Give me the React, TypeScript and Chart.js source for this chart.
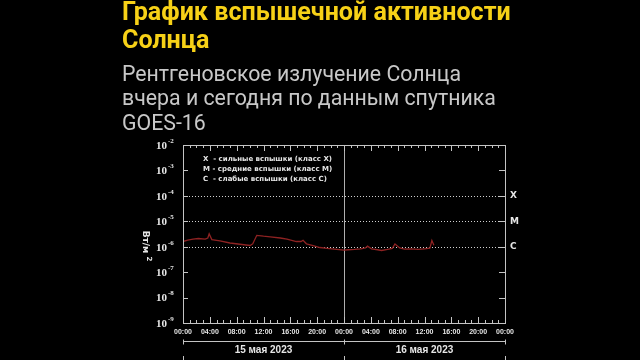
import React, { useEffect, useRef } from "react";
import { Chart, registerables } from "chart.js";
Chart.register(...registerables);

// ---- data ----
const hours = [0, 0.7, 1.5, 2.3, 3.3, 3.7, 3.9, 4.3, 5.5, 7.0, 8.5, 10.0, 10.4, 11.0, 12.0, 13.0, 14.5, 15.5, 16.9, 17.6, 17.9, 18.4, 19.4, 20.4, 21.5, 22.9, 24.0, 24.6, 25.6, 26.5, 27.2, 27.5, 28.1, 29.0, 29.6, 30.5, 31.2, 31.6, 32.3, 33.0, 34.0, 35.0, 36.0, 36.8, 37.1, 37.4];
const flux = [1.6e-6, 1.8e-6, 2.0e-6, 2.1e-6, 2.0e-6, 2.2e-6, 3.2e-6, 1.9e-6, 1.7e-6, 1.4e-6, 1.25e-6, 1.12e-6, 1.3e-6, 2.8e-6, 2.6e-6, 2.45e-6, 2.2e-6, 2.0e-6, 1.6e-6, 1.6e-6, 1.8e-6, 1.3e-6, 1.1e-6, 9.3e-7, 8.6e-7, 7.9e-7, 7.3e-7, 7.6e-7, 7.8e-7, 8.2e-7, 9.0e-7, 1.05e-6, 8.2e-7, 7.6e-7, 7.1e-7, 7.8e-7, 8.6e-7, 1.29e-6, 9.0e-7, 8.0e-7, 8.2e-7, 7.8e-7, 8.3e-7, 8.7e-7, 1.76e-6, 1.15e-6];
const decadeExps = [-9, -8, -7, -6, -5, -4, -3, -2];
const classLevels = [1e-4, 1e-5, 1e-6];
const classLetters = ["X", "M", "C"];
const legendLines = [
  "X  - сильные вспышки (класс X)",
  "M - средние вспышки (класс M)",
  "C  - слабые вспышки (класс C)",
];
const dayLabels = ["15 мая 2023", "16 мая 2023"];
const dayBounds = [0, 24, 48];
const titleLines = ["График вспышечной активности", "Солнца"];
const subtitleLines = ["Рентгеновское излучение Солнца", "вчера и сегодня по данным спутника", "GOES-16"];
const yUnit = "Вт/м";
const yUnitSup = "2";

const FRAME = "#c4c4c4";
const TEXT = "#e6e6e6";

const decor = {
  id: "decor",
  beforeDatasetsDraw(chart: any) {
    const { ctx, chartArea: a, scales } = chart;
    const y = scales.y, x = scales.x;
    ctx.save();
    ctx.strokeStyle = "#d0d0d0";
    ctx.lineWidth = 1;
    ctx.setLineDash([1, 2]);
    classLevels.forEach((v) => {
      const py = Math.round(y.getPixelForValue(v)) + 0.5;
      ctx.beginPath();
      ctx.moveTo(a.left, py);
      ctx.lineTo(a.right, py);
      ctx.stroke();
    });
    ctx.setLineDash([]);
    ctx.strokeStyle = "#b0b0b0";
    const mx = Math.round(x.getPixelForValue(24)) + 0.5;
    ctx.beginPath();
    ctx.moveTo(mx, a.top);
    ctx.lineTo(mx, a.bottom);
    ctx.stroke();
    ctx.restore();
  },
  afterDraw(chart: any) {
    const { ctx, chartArea: a, scales } = chart;
    const y = scales.y, x = scales.x;
    ctx.save();
    ctx.strokeStyle = FRAME;
    ctx.lineWidth = 1;
    ctx.strokeRect(a.left + 0.5, a.top + 0.5, a.right - a.left, a.bottom - a.top);
    // time ticks top & bottom
    ctx.beginPath();
    for (let h = 0; h <= 48; h++) {
      const px = Math.round(x.getPixelForValue(h)) + 0.5;
      const len = h % 4 === 0 ? 6 : 3;
      ctx.moveTo(px, a.bottom);
      ctx.lineTo(px, a.bottom - len);
      ctx.moveTo(px, a.top);
      ctx.lineTo(px, a.top + len);
    }
    // decade ticks left & right
    decadeExps.forEach((e) => {
      const py = Math.round(y.getPixelForValue(Math.pow(10, e))) + 0.5;
      ctx.moveTo(a.left, py);
      ctx.lineTo(a.left + 5, py);
      ctx.moveTo(a.right, py);
      ctx.lineTo(a.right - 6, py);
    });
    ctx.stroke();
    // y labels
    ctx.fillStyle = TEXT;
    decadeExps.forEach((e) => {
      const py = y.getPixelForValue(Math.pow(10, e));
      ctx.font = "bold 11px 'Liberation Serif'";
      ctx.textAlign = "right";
      ctx.textBaseline = "middle";
      ctx.fillText("10", a.left - 16, py + 1);
      ctx.font = "bold 7px 'Liberation Serif'";
      ctx.textAlign = "left";
      ctx.fillText("-" + String(-e), a.left - 15, py - 4);
    });
    // class letters
    ctx.font = "bold 9px 'DejaVu Sans'";
    ctx.textAlign = "left";
    ctx.textBaseline = "middle";
    classLevels.forEach((v, i) => {
      ctx.fillText(classLetters[i], a.right + 5, y.getPixelForValue(v));
    });
    // legend
    ctx.font = "bold 7px 'DejaVu Sans'";
    legendLines.forEach((t, i) => {
      ctx.fillText(t, a.left + 20, a.top + 14 + i * 10);
    });
    // y title
    ctx.save();
    ctx.translate(a.left - 38, (a.top + a.bottom) / 2 + 11);
    ctx.rotate(Math.PI / 2);
    ctx.font = "bold 9px 'DejaVu Sans'";
    ctx.textAlign = "center";
    ctx.textBaseline = "middle";
    ctx.fillText(yUnit, -3, 0);
    ctx.font = "bold 7px 'DejaVu Sans'";
    ctx.fillText(yUnitSup, 14, -4);
    ctx.restore();
    // date axis
    const ly = a.bottom + 18.5;
    ctx.strokeStyle = FRAME;
    ctx.beginPath();
    ctx.moveTo(a.left, ly);
    ctx.lineTo(a.right + 1, ly);
    dayBounds.forEach((d) => {
      const px = Math.round(x.getPixelForValue(d)) + 0.5;
      ctx.moveTo(px, ly - 2);
      ctx.lineTo(px, ly + 3);
      ctx.moveTo(px, 356);
      ctx.lineTo(px, 360);
    });
    ctx.stroke();
    ctx.font = "bold 10px 'Liberation Sans'";
    ctx.textAlign = "center";
    ctx.textBaseline = "middle";
    dayLabels.forEach((t, i) => {
      const cx = (x.getPixelForValue(dayBounds[i]) + x.getPixelForValue(dayBounds[i + 1])) / 2;
      ctx.fillText(t, cx, ly + 9);
    });
    ctx.restore();
  },
};

export default function App() {
  const ref = useRef<HTMLCanvasElement>(null);
  useEffect(() => {
    document.body.style.margin = "0";
    document.body.style.background = "#000";
    const chart = new Chart(ref.current!, {
      type: "line",
      data: {
        datasets: [
          {
            data: hours.map((h, i) => ({ x: h, y: flux[i] })),
            borderColor: "#8e2222",
            borderWidth: 1.3,
            pointRadius: 0,
            tension: 0,
          },
        ],
      },
      options: {
        animation: false,
        responsive: false,
        devicePixelRatio: 1,
        layout: { padding: { left: 183, right: 135, top: 145, bottom: 17 } },
        plugins: { legend: { display: false }, tooltip: { enabled: false } },
        scales: {
          x: {
            type: "linear",
            min: 0,
            max: 48,
            grid: { display: false, drawTicks: false },
            border: { display: false },
            afterFit: (s: any) => {
              s.height = 20;
            },
            ticks: {
              stepSize: 4,
              autoSkip: false,
              maxRotation: 0,
              padding: 5,
              color: TEXT,
              font: { family: "'Liberation Sans'", size: 7, weight: "bold" },
              callback: (v: any) => String(Number(v) % 24).padStart(2, "0") + ":00",
            },
          },
          y: {
            type: "logarithmic",
            min: 1e-9,
            max: 1e-2,
            display: false,
          },
        },
      },
      plugins: [decor],
    });
    return () => chart.destroy();
  }, []);

  return (
    <div style={{ position: "absolute", left: 0, top: 0, width: 640, height: 360, background: "#000", overflow: "hidden" }}>
      <canvas ref={ref} width={640} height={360} style={{ position: "absolute", left: 0, top: 0 }} />
      <div style={{ position: "absolute", left: 122, top: -2, fontFamily: "Roboto", fontWeight: 700, fontSize: 25.1, lineHeight: "27.5px", color: "#f7d117", whiteSpace: "nowrap" }}>
        {titleLines.map((t, i) => (
          <div key={i}>{t}</div>
        ))}
      </div>
      <div style={{ position: "absolute", left: 122, top: 61.5, fontFamily: "Roboto", fontWeight: 400, fontSize: 21.3, lineHeight: "24.5px", color: "#c8c8c8", whiteSpace: "nowrap" }}>
        {subtitleLines.map((t, i) => (
          <div key={i}>{t}</div>
        ))}
      </div>
    </div>
  );
}
